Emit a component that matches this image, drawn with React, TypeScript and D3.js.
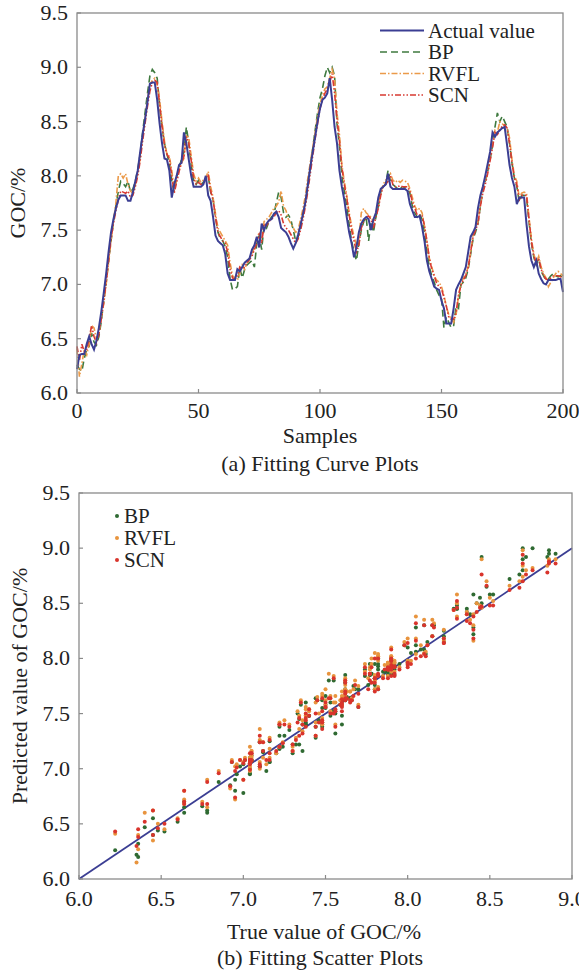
import React from "react";
import * as d3 from "d3";

const seriesNames = ["Actual value", "BP", "RVFL", "SCN"];

const actual = [
  6.22, 6.35, 6.36, 6.36, 6.45, 6.52, 6.45, 6.40, 6.48, 6.60,
  6.75, 6.92, 7.10, 7.30, 7.48, 7.60, 7.70, 7.78, 7.82, 7.82,
  7.82, 7.77, 7.77, 7.85, 7.95, 8.05, 8.22, 8.38, 8.52, 8.68,
  8.85, 8.86, 8.86, 8.70, 8.48, 8.30, 8.16, 8.15, 8.05, 7.80,
  7.92, 8.00, 8.10, 8.12, 8.40, 8.30, 8.15, 8.00, 7.90, 7.90,
  7.90, 7.90, 7.92, 8.00, 7.82, 7.77, 7.62, 7.45, 7.40, 7.38,
  7.36, 7.28, 7.10, 7.04, 7.04, 7.04, 7.14, 7.12, 7.16, 7.20,
  7.22, 7.24, 7.32, 7.36, 7.44, 7.34, 7.56, 7.50, 7.56, 7.59,
  7.60, 7.65, 7.67, 7.62, 7.52, 7.50, 7.48, 7.44, 7.38, 7.33,
  7.38, 7.46, 7.55, 7.65, 7.76, 7.92, 8.08, 8.22, 8.36, 8.50,
  8.62, 8.70, 8.72, 8.76, 8.90, 8.70, 8.45, 8.30, 8.05, 7.90,
  7.78, 7.62, 7.48, 7.38, 7.25, 7.34, 7.48, 7.56, 7.60, 7.62,
  7.60, 7.50, 7.60, 7.66, 7.80, 7.88, 7.90, 7.92, 8.02, 7.90,
  7.88, 7.88, 7.88, 7.88, 7.88, 7.88, 7.86, 7.74, 7.68, 7.62,
  7.62, 7.63, 7.53, 7.40, 7.22, 7.12, 7.05, 6.98, 6.96, 6.95,
  6.85, 6.78, 6.64, 6.64, 6.64, 6.78, 6.95, 7.00, 7.04, 7.10,
  7.16, 7.30, 7.44, 7.48, 7.53, 7.70, 7.82, 7.90, 8.00, 8.11,
  8.22, 8.40, 8.36, 8.40, 8.42, 8.44, 8.45, 8.28, 8.10, 7.98,
  7.90, 7.74, 7.80, 7.80, 7.80, 7.55, 7.35, 7.22, 7.16, 7.22,
  7.10, 7.05, 7.01, 7.00, 7.04, 7.04, 7.04, 7.04, 7.05, 7.05,
  6.93,
];

const bp = [
  6.26, 6.22, 6.20, 6.32, 6.40, 6.43, 6.55, 6.47, 6.44, 6.52,
  6.66, 6.85, 7.02, 7.22, 7.40, 7.58, 7.72, 7.86, 7.95, 7.93,
  7.90, 7.95, 7.85, 7.88, 7.95, 8.06, 8.20, 8.40, 8.58, 8.76,
  8.92, 8.98, 8.95, 8.90, 8.65, 8.45, 8.30, 8.20, 8.12, 7.95,
  7.85, 7.98, 8.08, 8.15, 8.22, 8.45, 8.30, 8.10, 7.95, 7.92,
  7.96, 7.92, 7.94, 7.97, 8.00, 7.85, 7.78, 7.62, 7.48, 7.42,
  7.40, 7.35, 7.25, 7.05, 6.95, 6.96, 6.98, 7.15, 7.06, 7.14,
  7.18, 7.20, 7.22, 7.16, 7.38, 7.45, 7.32, 7.55, 7.52, 7.58,
  7.62, 7.64, 7.75, 7.85, 7.80, 7.66, 7.62, 7.64, 7.60, 7.50,
  7.40, 7.44, 7.52, 7.64, 7.76, 7.90, 8.08, 8.25, 8.42, 8.58,
  8.72, 8.80, 8.92, 9.00, 8.95, 9.00, 8.92, 8.48, 8.28, 8.00,
  7.86, 7.72, 7.55, 7.40, 7.30, 7.22, 7.38, 7.50, 7.58, 7.62,
  7.40, 7.58, 7.48, 7.62, 7.72, 7.85, 7.90, 7.92, 8.05, 7.95,
  7.92, 7.90, 7.88, 7.90, 7.88, 7.90, 7.88, 7.84, 7.72, 7.66,
  7.62, 7.65, 7.60, 7.48, 7.30, 7.16, 7.08, 7.02, 6.95, 6.90,
  6.88, 6.60, 6.70, 6.65, 6.60, 6.62, 6.80, 6.78, 7.00, 7.02,
  7.06, 7.14, 7.28, 7.42, 7.48, 7.56, 7.72, 7.86, 7.95, 8.04,
  8.15, 8.28, 8.45, 8.58, 8.50, 8.55, 8.50, 8.45, 8.30, 8.12,
  7.98, 7.90, 7.76, 7.82, 7.82, 7.80, 7.58, 7.38, 7.25, 7.18,
  7.24, 7.12, 7.08, 7.04, 7.05, 7.08, 7.10, 7.08, 7.07, 7.08,
  7.06,
];

const rvfl = [
  6.41, 6.15, 6.27, 6.40, 6.35, 6.45, 6.62, 6.60, 6.50, 6.55,
  6.70, 6.82, 7.00, 7.20, 7.40, 7.58, 7.75, 8.00, 8.02, 7.98,
  8.02, 7.92, 7.86, 7.84, 7.92, 8.04, 8.16, 8.35, 8.52, 8.70,
  8.84, 8.88, 8.90, 8.84, 8.70, 8.50, 8.32, 8.20, 8.18, 8.05,
  7.88, 7.96, 8.05, 8.12, 8.16, 8.38, 8.35, 8.18, 8.02, 7.95,
  7.98, 7.94, 7.96, 7.98, 8.04, 7.90, 7.80, 7.65, 7.52, 7.48,
  7.44, 7.40, 7.36, 7.20, 7.08, 7.06, 7.04, 7.10, 7.18, 7.14,
  7.20, 7.24, 7.28, 7.34, 7.42, 7.48, 7.40, 7.58, 7.60, 7.62,
  7.66, 7.70, 7.72, 7.76, 7.86, 7.72, 7.68, 7.60, 7.56, 7.52,
  7.48, 7.50, 7.60, 7.70, 7.82, 7.98, 8.12, 8.26, 8.40, 8.55,
  8.66, 8.74, 8.80, 8.82, 8.90, 8.98, 8.90, 8.58, 8.38, 8.10,
  7.95, 7.82, 7.66, 7.54, 7.44, 7.36, 7.42, 7.66, 7.70, 7.66,
  7.64, 7.62, 7.58, 7.64, 7.72, 7.84, 7.92, 7.96, 7.98, 8.02,
  7.96, 7.94, 7.96, 7.94, 7.96, 7.95, 7.94, 7.88, 7.80, 7.72,
  7.68, 7.70, 7.66, 7.54, 7.40, 7.24, 7.16, 7.08, 7.04, 7.02,
  6.98, 6.90, 6.80, 6.72, 6.68, 6.65, 6.72, 6.90, 7.00, 7.06,
  7.10, 7.16, 7.30, 7.46, 7.52, 7.58, 7.74, 7.88, 7.96, 8.06,
  8.18, 8.30, 8.42, 8.40, 8.50, 8.48, 8.46, 8.44, 8.35, 8.15,
  8.00, 7.95, 7.80, 7.84, 7.85, 7.84, 7.62, 7.42, 7.28, 7.20,
  7.26, 7.16, 7.10, 7.06, 6.98, 7.02, 7.06, 7.10, 7.12, 7.10,
  7.08,
];

const scn = [
  6.43, 6.30, 6.45, 6.38, 6.40, 6.50, 6.62, 6.52, 6.46, 6.54,
  6.68, 6.84, 7.02, 7.22, 7.42, 7.56, 7.68, 7.78, 7.86, 7.85,
  7.84, 7.86, 7.80, 7.82, 7.90, 8.00, 8.14, 8.32, 8.48, 8.64,
  8.78, 8.86, 8.88, 8.86, 8.66, 8.46, 8.28, 8.20, 8.16, 8.00,
  7.84, 7.94, 8.04, 8.12, 8.18, 8.36, 8.30, 8.14, 7.98, 7.92,
  7.94, 7.92, 7.93, 7.96, 8.00, 7.86, 7.78, 7.62, 7.48, 7.44,
  7.40, 7.38, 7.30, 7.14, 7.06, 7.05, 7.08, 7.16, 7.14, 7.16,
  7.20, 7.23, 7.26, 7.32, 7.38, 7.46, 7.38, 7.56, 7.54, 7.58,
  7.60, 7.62, 7.66, 7.68, 7.64, 7.56, 7.52, 7.50, 7.46, 7.42,
  7.38, 7.42, 7.50, 7.60, 7.72, 7.86, 8.02, 8.18, 8.34, 8.48,
  8.62, 8.70, 8.76, 8.80, 8.86, 8.94, 8.76, 8.52, 8.32, 8.08,
  7.92, 7.80, 7.64, 7.50, 7.40, 7.30, 7.36, 7.52, 7.58, 7.62,
  7.63, 7.60, 7.52, 7.62, 7.70, 7.82, 7.90, 7.92, 7.95, 8.00,
  7.92, 7.90, 7.90, 7.91, 7.90, 7.90, 7.90, 7.86, 7.76, 7.70,
  7.64, 7.64, 7.64, 7.54, 7.40, 7.24, 7.14, 7.08, 7.01, 6.98,
  6.96, 6.88, 6.80, 6.70, 6.68, 6.68, 6.74, 6.90, 6.99, 7.04,
  7.08, 7.16, 7.30, 7.44, 7.50, 7.56, 7.72, 7.84, 7.92, 8.02,
  8.14, 8.26, 8.40, 8.38, 8.42, 8.46, 8.47, 8.44, 8.30, 8.12,
  7.98, 7.92, 7.78, 7.82, 7.82, 7.82, 7.60, 7.40, 7.26, 7.20,
  7.24, 7.14, 7.08, 7.05, 7.04, 7.06, 7.08, 7.08, 7.08, 7.07,
  7.06,
];

const xTicksTop = [0, 50, 100, 150, 200];
const yTicks = [6.0, 6.5, 7.0, 7.5, 8.0, 8.5, 9.0, 9.5];
const xTicksBottom = [6.0, 6.5, 7.0, 7.5, 8.0, 8.5, 9.0];

const lineColors = ["#3b3e93", "#3f7a3f", "#eb9a4a", "#d83a32"];
const dotColors = ["#2f6a32", "#e8943e", "#d9342c"];
const dashes = ["", "7,4", "6,2,1.5,2", "6,2,1.5,2,1.5,2"];

const FONT = "'Liberation Serif', 'Times New Roman', serif";
const FRAME = "#8a8a8a";

export default function App() {
  const tx = d3.scaleLinear().domain([0, 200]).range([77, 563]);
  const ty = d3.scaleLinear().domain([6, 9.5]).range([393, 13]);
  const seriesAll = [actual, bp, rvfl, scn];
  const line = d3
    .line<number>()
    .x((_, i) => tx(i))
    .y((d) => ty(d));

  const bx = d3.scaleLinear().domain([6, 9]).range([79, 572]);
  const by = d3.scaleLinear().domain([6, 9.5]).range([879, 493]);
  const preds = [bp, rvfl, scn];

  const fmt = d3.format(".1f");
  const drawOrder = [1, 2, 3, 0];

  return (
    <svg
      width={579}
      height={974}
      style={{ position: "absolute", left: 0, top: 0, background: "#fff" }}
      fontFamily={FONT}
    >
      {/* ===== Top chart ===== */}
      <g>
        {drawOrder.map((k) => (
          <path
            key={k}
            d={line(seriesAll[k]) || ""}
            fill="none"
            stroke={lineColors[k]}
            strokeWidth={k === 0 ? 2 : 1.6}
            strokeDasharray={dashes[k] || undefined}
          />
        ))}
        <rect
          x={tx(0)}
          y={ty(9.5)}
          width={tx(200) - tx(0)}
          height={ty(6) - ty(9.5)}
          fill="none"
          stroke={FRAME}
          strokeWidth={1.3}
        />
        {yTicks.map((t) => (
          <g key={t}>
            <line x1={tx(0)} x2={tx(0) + 4} y1={ty(t)} y2={ty(t)} stroke={FRAME} strokeWidth={1.2} />
            <text x={tx(0) - 9} y={ty(t) + 7} textAnchor="end" fontSize={22} fill="#222">
              {fmt(t)}
            </text>
          </g>
        ))}
        {xTicksTop.map((t) => (
          <g key={t}>
            <line x1={tx(t)} x2={tx(t)} y1={ty(6)} y2={ty(6) - 4} stroke={FRAME} strokeWidth={1.2} />
            <text x={tx(t)} y={418} textAnchor="middle" fontSize={22} fill="#222">
              {t}
            </text>
          </g>
        ))}
        <text x={320} y={443} textAnchor="middle" fontSize={22} fill="#222">
          Samples
        </text>
        <text x={320} y={471} textAnchor="middle" fontSize={22} fill="#222">
          (a) Fitting Curve Plots
        </text>
        <text
          transform={`translate(${25},${ty(7.75)}) rotate(-90)`}
          textAnchor="middle"
          fontSize={22}
          fill="#222"
        >
          GOC/%
        </text>
        {seriesNames.map((n, k) => {
          const yy = 30.5 + k * 21.5;
          return (
            <g key={n}>
              <line
                x1={380}
                x2={424}
                y1={yy}
                y2={yy}
                stroke={lineColors[k]}
                strokeWidth={k === 0 ? 2 : 1.6}
                strokeDasharray={dashes[k] || undefined}
              />
              <text x={428} y={yy + 7} fontSize={21} fill="#222">
                {n}
              </text>
            </g>
          );
        })}
      </g>

      {/* ===== Bottom chart ===== */}
      <g>
        <line x1={bx(6)} y1={by(6)} x2={bx(9)} y2={by(9)} stroke="#3b3e93" strokeWidth={1.8} />
        {preds.map((p, k) => (
          <g key={k}>
            {p.map((v, i) => (
              <circle key={i} cx={bx(actual[i])} cy={by(v)} r={2} fill={dotColors[k]} />
            ))}
          </g>
        ))}
        <rect
          x={bx(6)}
          y={by(9.5)}
          width={bx(9) - bx(6)}
          height={by(6) - by(9.5)}
          fill="none"
          stroke={FRAME}
          strokeWidth={1.3}
        />
        {yTicks.map((t) => (
          <g key={t}>
            <line x1={bx(6)} x2={bx(6) + 4} y1={by(t)} y2={by(t)} stroke={FRAME} strokeWidth={1.2} />
            <text x={bx(6) - 9} y={by(t) + 7} textAnchor="end" fontSize={22} fill="#222">
              {fmt(t)}
            </text>
          </g>
        ))}
        {xTicksBottom.map((t) => (
          <g key={t}>
            <line x1={bx(t)} x2={bx(t)} y1={by(6)} y2={by(6) - 4} stroke={FRAME} strokeWidth={1.2} />
            <text x={bx(t)} y={906} textAnchor="middle" fontSize={22} fill="#222">
              {fmt(t)}
            </text>
          </g>
        ))}
        <text x={324} y={939} textAnchor="middle" fontSize={22} fill="#222">
          True value of GOC/%
        </text>
        <text x={320} y={965} textAnchor="middle" fontSize={22} fill="#222">
          (b) Fitting Scatter Plots
        </text>
        <text
          transform={`translate(${27},${by(7.75)}) rotate(-90)`}
          textAnchor="middle"
          fontSize={22}
          fill="#222"
        >
          Predicted value of GOC/%
        </text>
        {seriesNames.slice(1).map((n, k) => {
          const yy = 516 + k * 22;
          return (
            <g key={n}>
              <circle cx={117} cy={yy} r={2} fill={dotColors[k]} />
              <text x={124} y={yy + 7} fontSize={21} fill="#222">
                {n}
              </text>
            </g>
          );
        })}
      </g>
    </svg>
  );
}
